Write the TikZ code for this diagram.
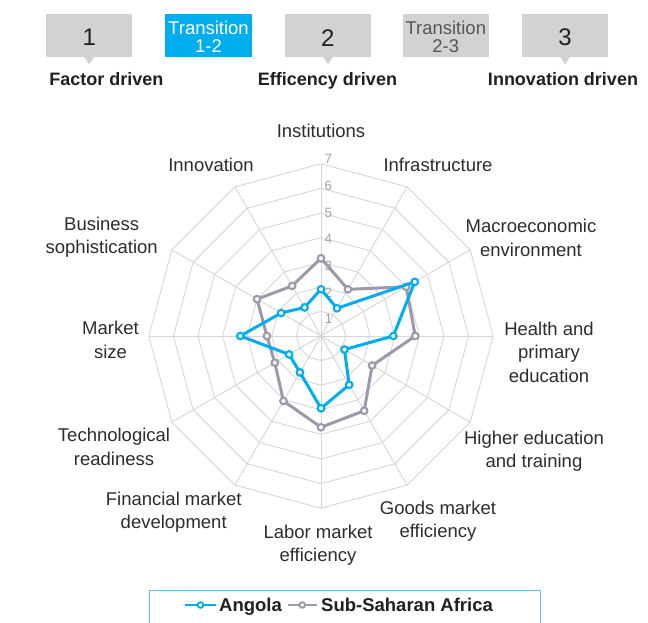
\documentclass[tikz,border=0pt]{standalone}
\usepackage{fontspec}
\setmainfont{Liberation Sans}
\definecolor{gridc}{RGB}{214,214,214}
\definecolor{tickc}{RGB}{165,165,165}
\definecolor{labc}{RGB}{45,45,45}
\definecolor{boxc}{RGB}{209,210,212}
\definecolor{cyanc}{RGB}{0,174,239}
\definecolor{grayc}{RGB}{158,152,170}
\definecolor{legc}{RGB}{90,198,240}
\definecolor{numc}{RGB}{35,31,32}
\definecolor{trgray}{RGB}{85,85,85}
\begin{document}
\begin{tikzpicture}[x=1pt,y=1pt,
  axlab/.style={font=\fontsize{18.5}{23.5}\selectfont, text=labc, align=center, inner sep=0pt},
  tick/.style={font=\fontsize{13.5}{13.5}\selectfont, text=tickc, anchor=west, inner sep=0pt},
  stagebox/.style={fill=boxc, minimum width=86.3, minimum height=42.7, inner sep=0pt},
  stagenum/.style={font=\fontsize{24}{24}\selectfont, text=numc, inner sep=0pt},
  trantext/.style={font=\fontsize{18.5}{17.3}\selectfont, align=center, inner sep=0pt, anchor=base},
  stagelab/.style={font=\fontsize{18}{18}\selectfont\bfseries, text=numc, anchor=base, inner sep=0pt},
  legtext/.style={font=\fontsize{18.5}{19}\selectfont\bfseries, text=numc, anchor=base west, inner sep=0pt},
  gridline/.style={draw=gridc, line width=0.9},
  aline/.style={draw=cyanc, line width=3, line join=round},
  sline/.style={draw=grayc, line width=3, line join=round},
  adot/.style={circle, draw=cyanc, fill=white, line width=2.1, minimum size=6.6, inner sep=0pt},
  sdot/.style={circle, draw=grayc, fill=white, line width=2.1, minimum size=6.6, inner sep=0pt}
]
\useasboundingbox (0,0) rectangle (648,622);
\fill[white] (0,0) rectangle (648,622);

% ---- stage boxes ----
\node[stagebox] (b1) at (89.2,586.7) {};
\node[stagebox, fill=cyanc] (t12) at (208.5,586.7) {};
\node[stagebox] (b2) at (327.9,586.7) {};
\node[stagebox] (t23) at (445.8,586.7) {};
\node[stagebox] (b3) at (565,586.7) {};
\foreach \b in {b1,b2,b3}{
  \fill[boxc] ([xshift=-5]\b.south) -- ([xshift=5]\b.south) -- ([yshift=-7.5]\b.south) -- cycle;
}
\node[stagenum] (n1) at (89.2,584.3) {1};
\node[stagenum] (n2) at (327.9,584.3) {2};
\node[stagenum] (n3) at (565,584.3) {3};
\node[trantext, text=white] (tt12) at (208.5,569.7) {Transition\\1-2};
\node[trantext, text=trgray] (tt23) at (445.8,569.7) {Transition\\2-3};
\node[stagelab] (s1) at (106.5,536) {Factor driven};
\node[stagelab] (s2) at (327.5,536) {Efficency driven};
\node[stagelab] (s3) at (563,536) {Innovation driven};

% ---- radar ----
\begin{scope}[shift={(321,286)}]
  \def\u{24.6}
  \foreach \k in {1,...,7}{
    \draw[gridline] (0:\k*\u) \foreach \a in {30,60,...,330}{ -- (\a:\k*\u)} -- cycle;
  }
  \foreach \a in {0,30,...,330}{
    \draw[gridline] (0,0) -- (\a:7*\u);
  }
  \foreach \k in {1,...,7}{
    \node[tick] (tk\k) at (3.5,{26.7*\k-10}) {\k};
  }
  % data
  \foreach \v [count=\i] in {3.16,2.19,4.0,3.83,2.4,3.51,3.71,3.05,2.17,2.2,3.0,2.35}{
    \coordinate (S\i) at ({90-30*(\i-1)}:{\v*\u});
  }
  \foreach \v [count=\i] in {1.9,1.3,4.4,2.94,1.1,2.29,2.94,1.71,1.5,3.28,1.87,1.34}{
    \coordinate (A\i) at ({90-30*(\i-1)}:{\v*\u});
  }
  \draw[sline] (S1) \foreach \i in {2,...,12}{ -- (S\i)} -- cycle;
  \foreach \i in {1,...,12}{ \node[sdot] (sm\i) at (S\i) {}; }
  \draw[aline] (A1) \foreach \i in {2,...,12}{ -- (A\i)} -- cycle;
  \foreach \i in {1,...,12}{ \node[adot] (am\i) at (A\i) {}; }
\end{scope}

% ---- axis labels ----
\node[axlab] (l1) at (321,491) {Institutions};
\node[axlab] (l2) at (438,457) {Infrastructure};
\node[axlab] (l3) at (531,384) {Macroeconomic\\environment};
\node[axlab] (l4) at (549,270) {Health and\\primary\\education};
\node[axlab] (l5) at (534,171) {Higher education\\and training};
\node[axlab] (l6) at (438,101) {Goods market\\efficiency};
\node[axlab] (l7) at (318,77) {Labor market\\efficiency};
\node[axlab] (l8) at (173.7,110) {Financial market\\development};
\node[axlab] (l9) at (114,175) {Technological\\readiness};
\node[axlab] (l10) at (110.5,282) {Market\\size};
\node[axlab] (l11) at (101.7,385) {Business\\sophistication};
\node[axlab] (l12) at (211,457) {Innovation};

% ---- legend ----
\coordinate (lg1) at (149.3,-5);
\coordinate (lg2) at (540,-5);
\draw[legc, line width=1] (lg1) |- (540,32) -- (lg2);
\coordinate (la) at (185,17);
\coordinate (lb) at (216,17);
\draw[cyanc, line width=2.8] (la) -- (lb);
\node[adot, line width=1.9, minimum size=5.6] (lam) at (200.5,17) {};
\node[legtext] (lat) at (219,10.3) {Angola};
\coordinate (lc) at (288,17);
\coordinate (ld) at (316.7,17);
\draw[grayc, line width=2.8] (lc) -- (ld);
\node[sdot, line width=1.9, minimum size=5.6] (lsm) at (302.3,17) {};
\node[legtext] (lst) at (321,10.3) {Sub-Saharan Africa};
\end{tikzpicture}
\end{document}
